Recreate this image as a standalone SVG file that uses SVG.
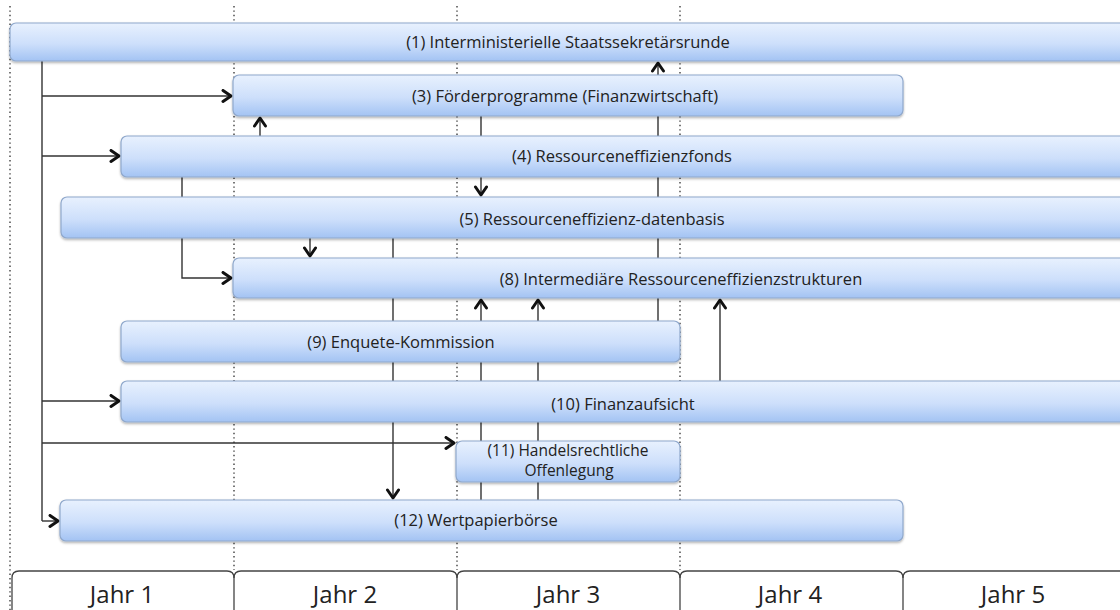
<svg xmlns="http://www.w3.org/2000/svg" width="1120" height="610" viewBox="0 0 1120 610">
  <defs>
    <linearGradient id="barFill" x1="0" y1="0" x2="0" y2="1">
      <stop offset="0" stop-color="#e8f1fe"/>
      <stop offset="0.55" stop-color="#cddffb"/>
      <stop offset="1" stop-color="#a3c3f3"/>
    </linearGradient>
    <filter id="shadow" x="-5%" y="-30%" width="110%" height="170%">
      <feDropShadow dx="0" dy="1.5" stdDeviation="1.2" flood-color="#000" flood-opacity="0.3"/>
    </filter>
    <marker id="arrow" markerUnits="userSpaceOnUse" markerWidth="16" markerHeight="16" refX="10" refY="7" orient="auto">
      <path d="M2,1.5 L10,7 L2,12.5" fill="none" stroke="#111" stroke-width="3" stroke-linecap="round" stroke-linejoin="round"/>
    </marker>
  </defs>
  <style>
    .grid { stroke: #555; stroke-width: 1.6; stroke-dasharray: 1.4 3; fill: none; }
    .bar rect { fill: url(#barFill); stroke: #8fa8cc; stroke-width: 1.2; filter: url(#shadow); }
    .bar text { font-family: "Open Sans", "Liberation Sans", sans-serif; font-size: 16.5px; fill: #222; text-anchor: middle; }
    .bar text.two { font-size: 15.5px; }
    .conn path { fill: none; stroke: #333; stroke-width: 1.4; }
    .conn path.arr { marker-end: url(#arrow); }
    .year path { fill: none; stroke: #444; stroke-width: 1.3; }
    .year text { font-family: "Open Sans", "Liberation Sans", sans-serif; font-size: 24px; fill: #222; text-anchor: middle; }
  </style>
  <rect width="1120" height="610" fill="#fff"/>

  <!-- year boundaries -->
  <g id="grid">
    <line class="grid" x1="10" y1="6" x2="10" y2="610"/>
    <line class="grid" x1="234" y1="6" x2="234" y2="570"/>
    <line class="grid" x1="457" y1="6" x2="457" y2="570"/>
    <line class="grid" x1="680" y1="6" x2="680" y2="570"/>
  </g>

  <!-- connectors -->
  <g id="connectors" class="conn">
    <path d="M42,61 V521"/>
    <path class="arr" d="M42,96 H231"/>
    <path class="arr" d="M42,156 H119"/>
    <path class="arr" d="M42,401 H119"/>
    <path class="arr" d="M42,443 H454"/>
    <path class="arr" d="M42,521 H58"/>
    <path class="arr" d="M182,177 V278 H231"/>
    <path class="arr" d="M260,136 V118"/>
    <path class="arr" d="M481,116 V195"/>
    <path class="arr" d="M658,321 V63"/>
    <path class="arr" d="M310,238 V256"/>
    <path class="arr" d="M393,238 V498"/>
    <path class="arr" d="M481,500 V300"/>
    <path class="arr" d="M538,500 V300"/>
    <path class="arr" d="M720,381 V300"/>
  </g>

  <g id="n1" class="bar">
    <rect x="10" y="23" width="1125" height="38" rx="6"/>
    <text x="568" y="48">(1) Interministerielle Staatssekretärsrunde</text>
  </g>
  <g id="n3" class="bar">
    <rect x="233" y="75" width="670" height="41" rx="6"/>
    <text x="565" y="102">(3) Förderprogramme (Finanzwirtschaft)</text>
  </g>
  <g id="n4" class="bar">
    <rect x="121" y="136" width="1014" height="41" rx="6"/>
    <text x="622" y="162">(4) Ressourceneffizienzfonds</text>
  </g>
  <g id="n5" class="bar">
    <rect x="61" y="197" width="1074" height="41" rx="6"/>
    <text x="592" y="225">(5) Ressourceneffizienz-datenbasis</text>
  </g>
  <g id="n8" class="bar">
    <rect x="233" y="258" width="902" height="40" rx="6"/>
    <text x="681" y="285">(8) Intermediäre Ressourceneffizienzstrukturen</text>
  </g>
  <g id="n9" class="bar">
    <rect x="121" y="321" width="559" height="41" rx="6"/>
    <text x="401" y="348">(9) Enquete-Kommission</text>
  </g>
  <g id="n10" class="bar">
    <rect x="121" y="381" width="1014" height="41" rx="6"/>
    <text x="623" y="410">(10) Finanzaufsicht</text>
  </g>
  <g id="n11" class="bar">
    <rect x="456" y="441" width="224" height="41" rx="6"/>
    <text class="two" x="568" y="456">(11) Handelsrechtliche</text>
    <text class="two" x="569" y="476">Offenlegung</text>
  </g>
  <g id="n12" class="bar">
    <rect x="60" y="500" width="843" height="41" rx="6"/>
    <text x="476" y="526">(12) Wertpapierbörse</text>
  </g>

  <!-- timeline -->
  <g id="years" class="year">
    <path d="M12,610 V578 Q12,571 19,571 H227 Q234,571 234,578 V610"/>
    <path d="M234,578 Q234,571 241,571 H450 Q457,571 457,578 V610"/>
    <path d="M457,578 Q457,571 464,571 H673 Q680,571 680,578 V610"/>
    <path d="M680,578 Q680,571 687,571 H896 Q903,571 903,578 V610"/>
    <path d="M903,578 Q903,571 910,571 H1122"/>
    <text x="122" y="603">Jahr 1</text>
    <text x="345" y="603">Jahr 2</text>
    <text x="568" y="603">Jahr 3</text>
    <text x="790" y="603">Jahr 4</text>
    <text x="1013" y="603">Jahr 5</text>
  </g>
</svg>
